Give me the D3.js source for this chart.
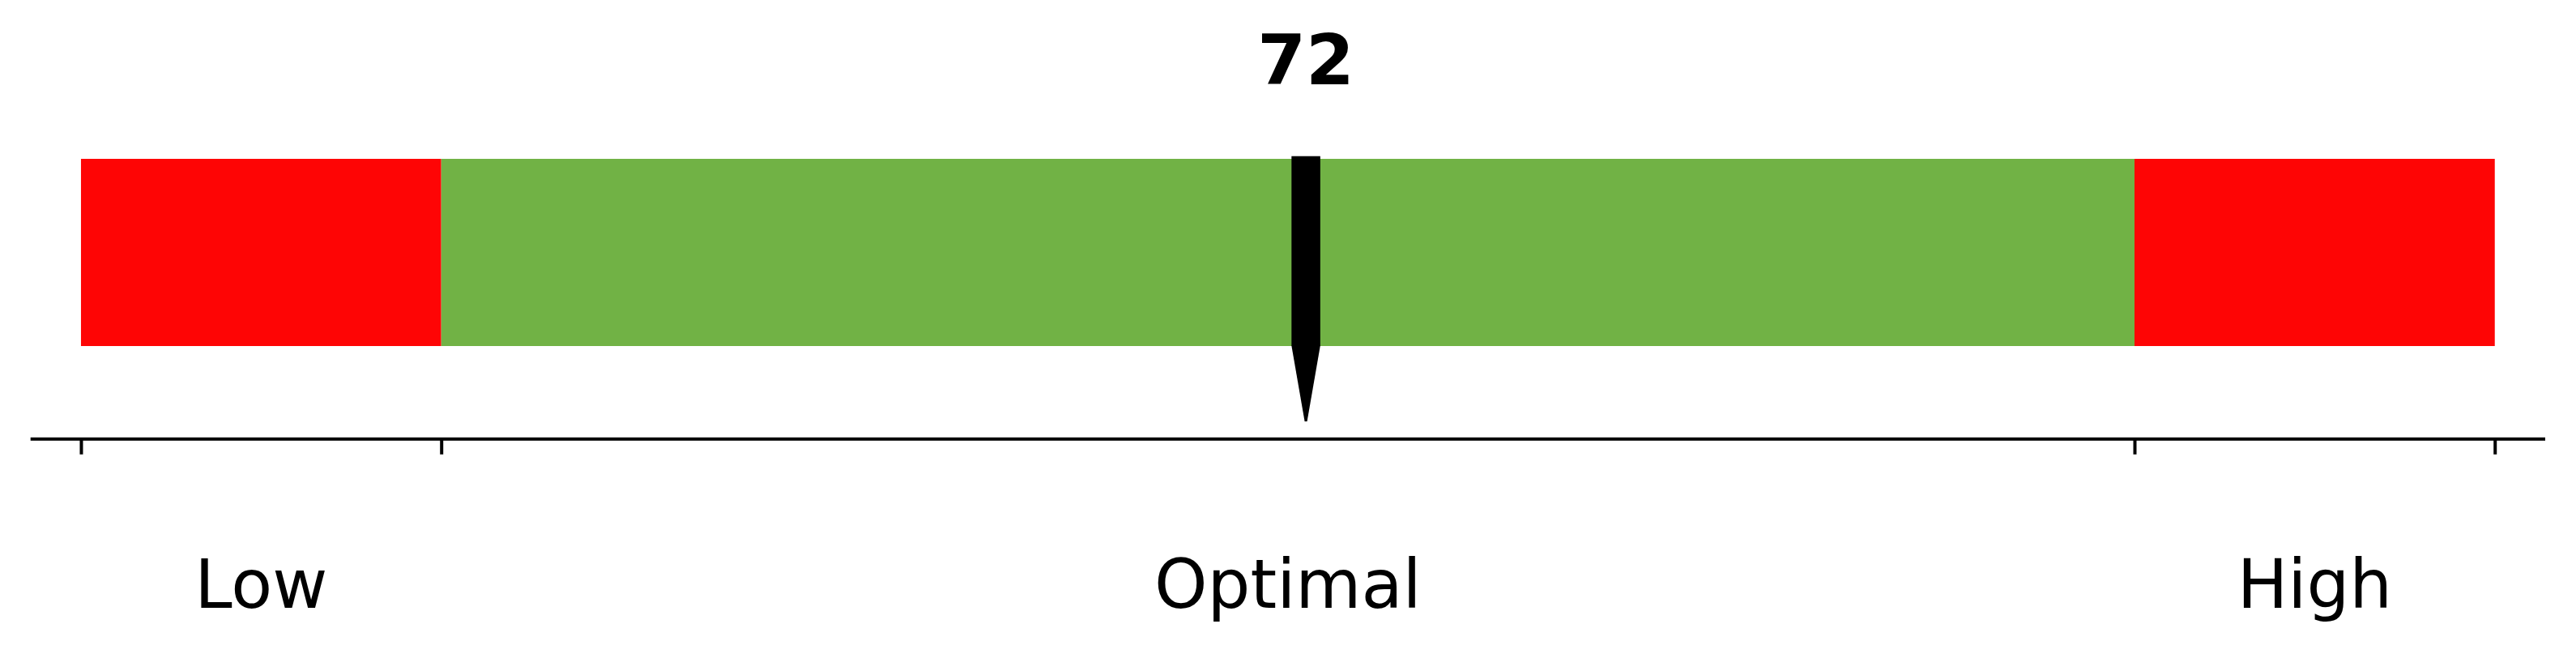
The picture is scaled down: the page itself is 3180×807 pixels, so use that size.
<!DOCTYPE html>
<html>
<head>
<meta charset="utf-8">
<script src="https://cdn.jsdelivr.net/npm/d3@7"></script>
<style>
html,body{margin:0;padding:0;background:#fff;}
svg{display:block;}
</style>
</head>
<body>
<svg id="chart" width="3180" height="807"></svg>
<script>
// ---- data ----
const categories = ["Low", "Optimal", "High"];
const rangeStarts = [38, 48, 95];
const rangeEnds = [48, 95, 105];
const rangeColors = ["#fe0505", "#71b245", "#fe0505"];
const tickValues = [38, 48, 95, 105];
const value = 72;
const valueLabel = "72";

// ---- layout ----
const svg = d3.select("#chart");
const x = d3.scaleLinear().domain([36.6, 106.4]).range([37.7, 3142]);
const barTop = 196, barBottom = 427, axisY = 541.7;

// range bars
svg.selectAll("rect.range")
  .data(categories)
  .join("rect")
  .attr("class", "range")
  .attr("x", (d, i) => x(rangeStarts[i]))
  .attr("width", (d, i) => x(rangeEnds[i]) - x(rangeStarts[i]))
  .attr("y", barTop)
  .attr("height", barBottom - barTop)
  .attr("fill", (d, i) => rangeColors[i]);

// axis
const axis = d3.axisBottom(x).tickValues(tickValues).tickSize(19).tickFormat("");
const g = svg.append("g").attr("transform", `translate(0,${axisY})`).call(axis);
g.select(".domain").attr("stroke", "#000").attr("stroke-width", 4)
  .attr("d", `M${x.range()[0]},0H${x.range()[1]}`);
g.selectAll(".tick line").attr("stroke", "#000").attr("stroke-width", 4);

// category labels
svg.selectAll("text.cat")
  .data(categories)
  .join("text")
  .attr("class", "cat")
  .attr("x", (d, i) => (x(rangeStarts[i]) + x(rangeEnds[i])) / 2)
  .attr("y", 750)
  .attr("text-anchor", "middle")
  .attr("font-family", "DejaVu Sans")
  .attr("font-size", 83.3)
  .attr("fill", "#000")
  .text(d => d);

// marker
const mx = x(value), mw = 35.5, mTop = 192.7;
svg.append("rect")
  .attr("x", mx - mw / 2).attr("y", mTop)
  .attr("width", mw).attr("height", barBottom - mTop)
  .attr("fill", "#000");
svg.append("path")
  .attr("d", `M${mx - mw / 2},${barBottom - 0.5}L${mx + mw / 2},${barBottom - 0.5}L${mx + 1.5},520L${mx - 1.5},520Z`)
  .attr("fill", "#000");

svg.append("text")
  .attr("x", mx).attr("y", 104.3)
  .attr("text-anchor", "middle")
  .attr("font-family", "DejaVu Sans")
  .attr("font-weight", "bold")
  .attr("font-size", 86)
  .attr("fill", "#000")
  .text(valueLabel);
</script>
</body>
</html>
